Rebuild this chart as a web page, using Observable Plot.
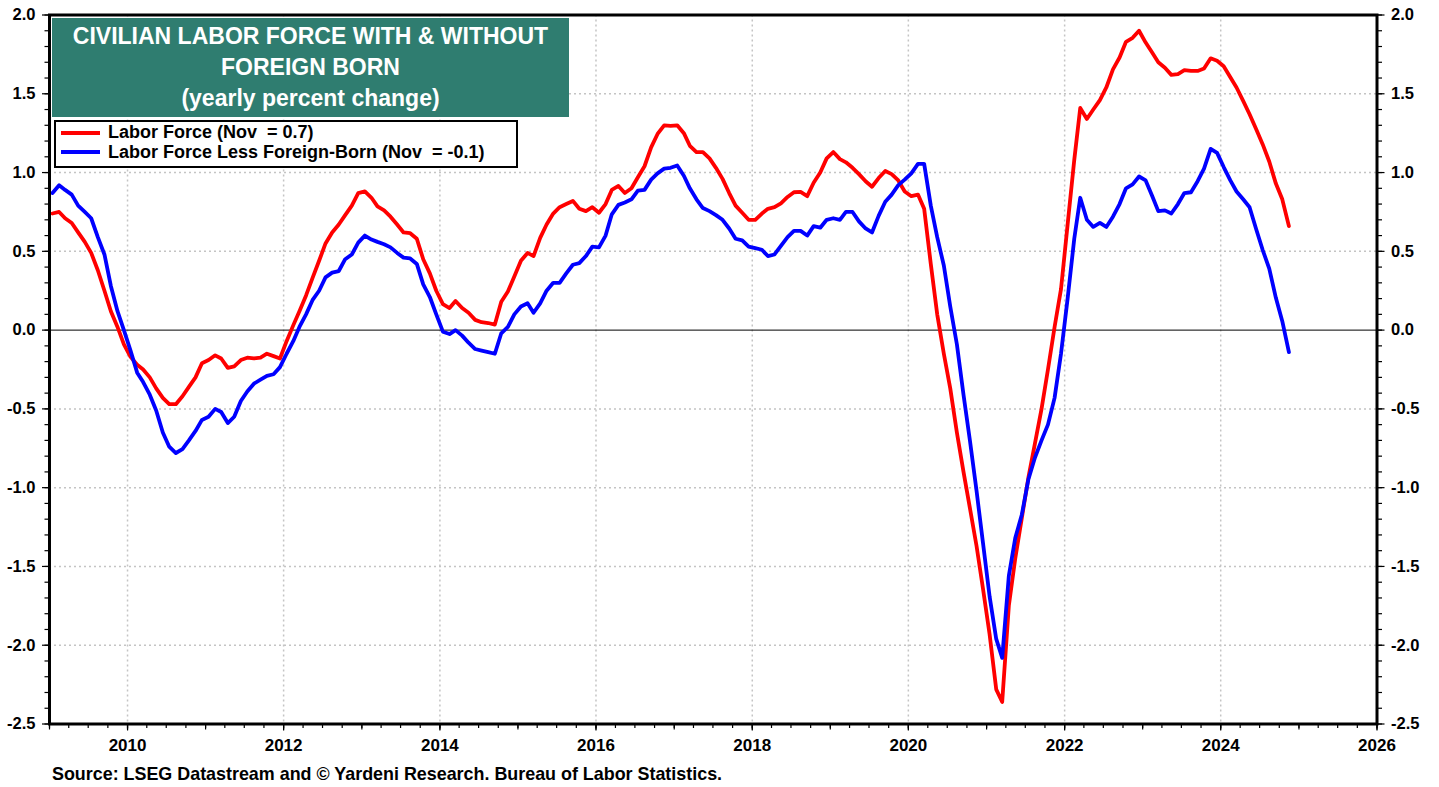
<!DOCTYPE html>
<html>
<head>
<meta charset="utf-8">
<script src="https://cdn.jsdelivr.net/npm/d3@7"></script>
<script src="https://cdn.jsdelivr.net/npm/@observablehq/plot@0.6"></script>
<style>
  body { margin: 0; background: #fff; font-family: "Liberation Sans", Arial, sans-serif; }
  #wrap { position: relative; width: 1439px; height: 787px; overflow: hidden; background: #fff; }
  #chart { position: absolute; left: 0; top: 0; }
  #title { position: absolute; left: 52px; top: 18px; width: 517px; height: 99px; background: #2F7D70;
           color: #fff; font-weight: bold; font-size: 23px; line-height: 31px; text-align: center;
           padding-top: 3px; box-sizing: border-box; white-space: nowrap; }
  #legend { position: absolute; left: 54px; top: 120px; width: 464px; height: 48px; background: #fff;
            border: 2px solid #000; box-sizing: border-box; font-weight: bold; font-size: 18px; }
  .row { position: absolute; left: 5px; height: 21px; line-height: 21px; display: flex; align-items: center; white-space: pre; }
  .sw { width: 39px; height: 4px; margin-right: 8px; }
  #source { position: absolute; left: 52px; top: 764px; font-weight: bold; font-size: 17.9px; white-space: pre; }
</style>
</head>
<body>
<div id="wrap">
  <div id="chart"></div>
  <div id="title"></div>
  <div id="legend"></div>
  <div id="source"></div>
</div>
<script>
// ---- Data (monthly, Jan 2009 – Nov 2024), yearly percent change ----
const startYear = 2009;
const titleLines = ["CIVILIAN LABOR FORCE WITH & WITHOUT", "FOREIGN BORN", "(yearly percent change)"];
const seriesNames = ["Labor Force (Nov  = 0.7)", "Labor Force Less Foreign-Born (Nov  = -0.1)"];
const seriesColors = ["#FF0000", "#0000FF"];
const sourceText = "Source: LSEG Datastream and \u00A9 Yardeni Research. Bureau of Labor Statistics.";
const xTickYears = [2010, 2012, 2014, 2016, 2018, 2020, 2022, 2024, 2026];
const yTickValues = [-2.5, -2.0, -1.5, -1.0, -0.5, 0.0, 0.5, 1.0, 1.5, 2.0];

const laborForce = [
  0.74,0.75,0.71,0.68,0.62,0.56,0.49,0.38,0.25,0.12,0.02,-0.09,
  -0.17,-0.22,-0.25,-0.30,-0.37,-0.43,-0.47,-0.47,-0.42,-0.36,-0.30,-0.21,
  -0.19,-0.16,-0.18,-0.24,-0.23,-0.19,-0.175,-0.18,-0.175,-0.15,-0.165,-0.18,
  -0.07,0.03,0.12,0.22,0.33,0.44,0.55,0.62,0.67,0.73,0.79,0.87,
  0.88,0.84,0.785,0.76,0.72,0.67,0.62,0.615,0.58,0.45,0.36,0.25,
  0.165,0.14,0.185,0.14,0.11,0.065,0.05,0.045,0.035,0.18,0.245,0.34,
  0.44,0.49,0.47,0.585,0.67,0.74,0.78,0.80,0.82,0.77,0.755,0.78,
  0.745,0.80,0.89,0.915,0.87,0.90,0.97,1.04,1.16,1.245,1.30,1.296,
  1.30,1.25,1.17,1.13,1.13,1.09,1.03,0.96,0.87,0.79,0.745,0.70,
  0.70,0.74,0.77,0.78,0.805,0.845,0.875,0.877,0.85,0.935,1.0,1.09,
  1.13,1.085,1.065,1.03,0.99,0.945,0.91,0.965,1.01,0.99,0.95,0.88,
  0.85,0.86,0.77,0.42,0.10,-0.15,-0.37,-0.65,-0.90,-1.13,-1.37,-1.64,
  -1.93,-2.28,-2.36,-1.75,-1.45,-1.19,-0.94,-0.72,-0.50,-0.25,0.02,0.26,
  0.67,1.08,1.41,1.34,1.40,1.46,1.54,1.655,1.73,1.83,1.855,1.90,
  1.825,1.76,1.70,1.665,1.62,1.625,1.65,1.645,1.645,1.66,1.725,1.71,
  1.675,1.605,1.54,1.455,1.37,1.275,1.18,1.07,0.93,0.83,0.66
];
const lessForeignBorn = [
  0.87,0.92,0.89,0.86,0.79,0.75,0.71,0.59,0.48,0.28,0.12,0.0,
  -0.13,-0.27,-0.33,-0.41,-0.51,-0.65,-0.74,-0.78,-0.755,-0.70,-0.64,-0.57,
  -0.55,-0.50,-0.52,-0.59,-0.55,-0.45,-0.39,-0.34,-0.315,-0.29,-0.28,-0.235,
  -0.15,-0.07,0.02,0.10,0.19,0.25,0.335,0.365,0.375,0.45,0.48,0.555,
  0.60,0.575,0.56,0.545,0.525,0.49,0.46,0.455,0.42,0.29,0.21,0.10,
  -0.01,-0.025,0.0,-0.035,-0.08,-0.12,-0.13,-0.14,-0.15,-0.02,0.02,0.10,
  0.15,0.17,0.11,0.17,0.25,0.30,0.30,0.36,0.415,0.425,0.47,0.53,
  0.525,0.60,0.735,0.795,0.81,0.83,0.885,0.89,0.955,0.995,1.025,1.03,
  1.045,0.98,0.90,0.83,0.775,0.755,0.73,0.70,0.645,0.58,0.57,0.53,
  0.52,0.51,0.47,0.48,0.535,0.59,0.63,0.63,0.60,0.66,0.65,0.70,
  0.71,0.70,0.75,0.75,0.69,0.645,0.62,0.725,0.815,0.86,0.92,0.955,
  0.995,1.055,1.055,0.79,0.59,0.41,0.15,-0.09,-0.41,-0.70,-1.02,-1.35,
  -1.69,-1.96,-2.08,-1.56,-1.32,-1.17,-0.95,-0.81,-0.70,-0.60,-0.43,-0.15,
  0.20,0.58,0.84,0.70,0.655,0.68,0.655,0.72,0.80,0.90,0.925,0.975,
  0.95,0.85,0.755,0.76,0.74,0.80,0.87,0.875,0.945,1.025,1.15,1.125,
  1.035,0.95,0.88,0.83,0.78,0.64,0.51,0.39,0.205,0.057,-0.14
];

// ---- Build tables ----
const toRows = (arr) => arr.map((v, i) => ({date: new Date(Date.UTC(startYear, i, 15)), value: v}));
const redRows = toRows(laborForce);
const blueRows = toRows(lessForeignBorn);

const utc = (y, m = 0) => new Date(Date.UTC(y, m, 1));
const gridYears = xTickYears.filter(y => y < 2026).map(y => utc(y));
const yearTicks = d3.range(2009, 2027).map(y => utc(y));
const quarterTicks = d3.range(0, 17 * 4 + 1).map(q => utc(2009, q * 3));
const majorTickDates = xTickYears.map(y => utc(y));
const minorY = d3.range(-25, 21).map(d => d / 10);
const gridYVals = yTickValues.filter(v => v !== 0 && v > -2.5 && v < 2.0);

const fontFamily = '"Liberation Sans", Arial, Helvetica, sans-serif';
const fmtY = d => d.toFixed(1);

const chart = Plot.plot({
  width: 1439,
  height: 787,
  marginLeft: 49,
  marginRight: 62.5,
  marginTop: 14.5,
  marginBottom: 63.5,
  style: {fontFamily, background: "white", color: "black", overflow: "visible"},
  x: {type: "utc", domain: [utc(2009), utc(2026)], label: null},
  y: {domain: [-2.5, 2.0], label: null},
  marks: [
    Plot.gridX({ticks: gridYears, stroke: "#c4c4c4", strokeOpacity: 1, strokeWidth: 1.5, strokeDasharray: "2,3"}),
    Plot.gridY({ticks: gridYVals, stroke: "#c4c4c4", strokeOpacity: 1, strokeWidth: 1.5, strokeDasharray: "2,3"}),
    Plot.ruleY([0], {stroke: "#000", strokeWidth: 1}),
    Plot.line(redRows, {x: "date", y: "value", stroke: seriesColors[0], strokeWidth: 3.8}),
    Plot.line(blueRows, {x: "date", y: "value", stroke: seriesColors[1], strokeWidth: 3.8}),
    // y axes (left & right)
    Plot.axisY({anchor: "left", label: null, ticks: minorY, tickSize: 4.5, tickFormat: () => "", stroke: "#000", strokeWidth: 1.2}),
    Plot.axisY({anchor: "left", label: null, ticks: yTickValues, tickSize: 7, tickPadding: 7, tickFormat: fmtY,
                fontSize: 16.5, fontWeight: "bold", fill: "#000", stroke: "#000", strokeWidth: 1.2}),
    Plot.axisY({anchor: "right", label: null, ticks: minorY, tickSize: 4.5, tickFormat: () => "", stroke: "#000", strokeWidth: 1.2}),
    Plot.axisY({anchor: "right", label: null, ticks: yTickValues, tickSize: 7, tickPadding: 7, tickFormat: fmtY,
                fontSize: 16.5, fontWeight: "bold", fill: "#000", stroke: "#000", strokeWidth: 1.2}),
    // x axis
    Plot.axisX({anchor: "bottom", label: null, ticks: quarterTicks, tickSize: 4.5, tickFormat: () => "", stroke: "#000", strokeWidth: 1.2}),
    Plot.axisX({anchor: "bottom", label: null, ticks: yearTicks, tickSize: 6, tickFormat: () => "", stroke: "#000", strokeWidth: 1.2}),
    Plot.axisX({anchor: "bottom", label: null, ticks: majorTickDates, tickSize: 7, tickPadding: 8,
                tickFormat: d => String(d.getUTCFullYear()), fontSize: 17, fontWeight: "bold", fill: "#000",
                stroke: "#000", strokeWidth: 1.2}),
    Plot.frame({stroke: "#000", strokeWidth: 3})
  ]
});
document.getElementById("chart").appendChild(chart);

// ---- Title, legend, source ----
document.getElementById("title").innerHTML = titleLines.map(t => `<div>${t.replace("&", "&amp;")}</div>`).join("");
const legend = document.getElementById("legend");
seriesNames.forEach((name, i) => {
  const row = document.createElement("div");
  row.className = "row";
  row.style.top = (i === 0 ? 0 : 19.5) + "px";
  row.innerHTML = `<span class="sw" style="background:${seriesColors[i]}"></span><span>${name}</span>`;
  legend.appendChild(row);
});
document.getElementById("source").textContent = sourceText;
</script>
</body>
</html>
